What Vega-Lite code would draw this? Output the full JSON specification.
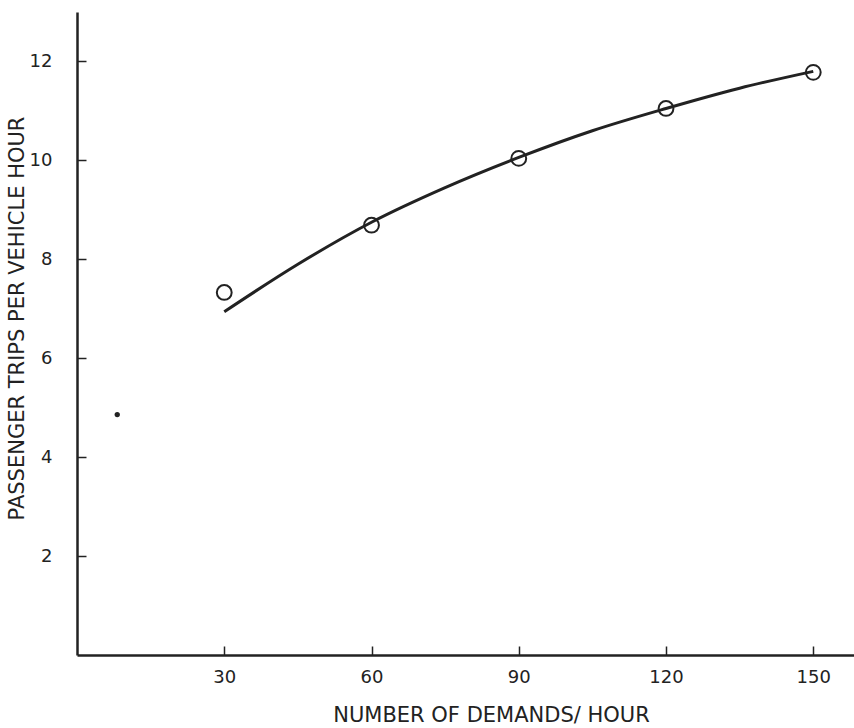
{
  "$schema": "https://vega.github.io/schema/vega-lite/v6.json",
  "width": 777,
  "height": 643,
  "autosize": {"type": "none"},
  "padding": {"left": 77, "top": 12, "right": 0, "bottom": 73},
  "background": "white",
  "config": {"view": {"stroke": null}, "font": "DejaVu Sans"},
  "datasets": {
    "curve": [
      {"demands": 30, "trips": 6.94},
      {"demands": 45, "trips": 7.9},
      {"demands": 60, "trips": 8.75},
      {"demands": 75, "trips": 9.45},
      {"demands": 90, "trips": 10.06},
      {"demands": 105, "trips": 10.6},
      {"demands": 120, "trips": 11.05},
      {"demands": 135, "trips": 11.46},
      {"demands": 150, "trips": 11.8}
    ],
    "observed": [
      {"demands": 30, "trips": 7.33},
      {"demands": 60, "trips": 8.69},
      {"demands": 90, "trips": 10.04},
      {"demands": 120, "trips": 11.05},
      {"demands": 150, "trips": 11.78}
    ],
    "speck": [
      {"demands": 8.2, "trips": 4.86}
    ]
  },
  "encoding": {
    "x": {
      "field": "demands", "type": "quantitative",
      "scale": {"domain": [0, 158.3], "nice": false, "zero": false},
      "axis": {
        "title": "NUMBER OF DEMANDS/ HOUR",
        "values": [30, 60, 90, 120, 150],
        "grid": false,
        "domainColor": "#222", "domainWidth": 2.5,
        "tickColor": "#222", "tickWidth": 1.5, "tickSize": -9,
        "labelFontSize": 18, "labelColor": "#222", "labelPadding": 22, "labelFont": "DejaVu Sans",
        "titleFontSize": 21, "titleFontWeight": "normal", "titleColor": "#222", "titleFont": "DejaVu Sans",
        "titleX": 414, "titlePadding": 18
      }
    },
    "y": {
      "field": "trips", "type": "quantitative",
      "scale": {"domain": [0, 13], "nice": false},
      "axis": {
        "title": "PASSENGER TRIPS PER VEHICLE HOUR",
        "values": [2, 4, 6, 8, 10, 12],
        "grid": false,
        "domainColor": "#222", "domainWidth": 2.5,
        "tickColor": "#222", "tickWidth": 1.5, "tickSize": -9,
        "labelFontSize": 18, "labelColor": "#222", "labelPadding": 34, "labelFont": "DejaVu Sans",
        "titleFontSize": 21, "titleFontWeight": "normal", "titleColor": "#222", "titleFont": "DejaVu Sans",
        "titleY": 306, "titleX": -60, "titleAngle": -90, "titleAlign": "center", "titleBaseline": "middle"
      }
    }
  },
  "layer": [
    {
      "data": {"name": "curve"},
      "mark": {"type": "line", "interpolate": "monotone", "color": "#222", "strokeWidth": 3}
    },
    {
      "data": {"name": "observed"},
      "mark": {"type": "point", "shape": "circle", "filled": false, "size": 220, "color": "#222", "strokeWidth": 2, "opacity": 1}
    },
    {
      "data": {"name": "speck"},
      "mark": {"type": "point", "shape": "circle", "filled": true, "size": 28, "color": "#222", "opacity": 1}
    }
  ]
}
